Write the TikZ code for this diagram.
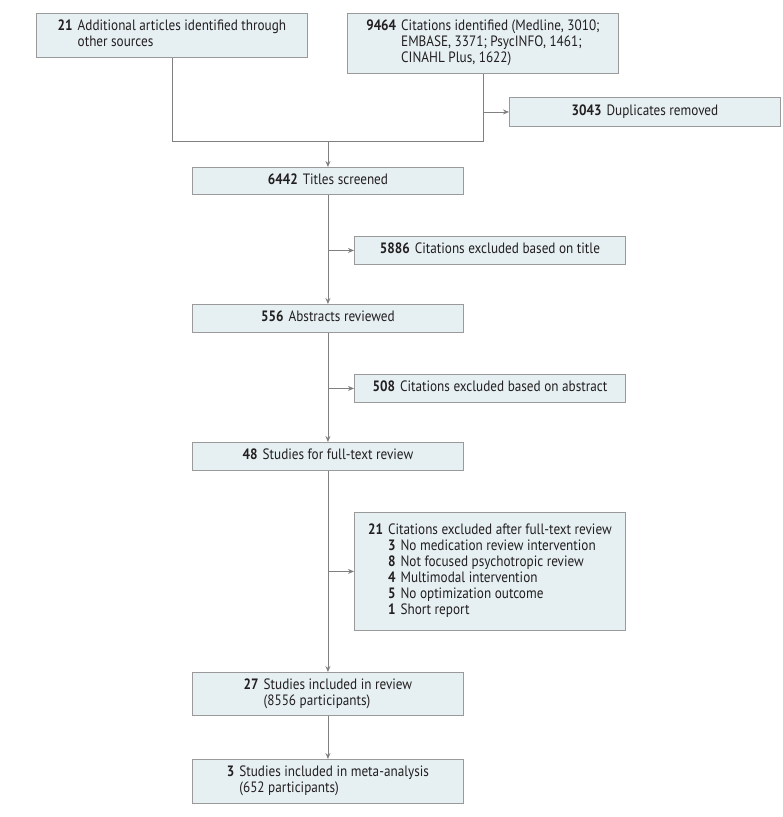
\documentclass[tikz,border=0pt]{standalone}
\usepackage{fontspec}
\setmainfont{PT Sans}[FakeStretch=0.88]
\usetikzlibrary{arrows.meta}
\definecolor{boxfill}{HTML}{E6F0F3}
\definecolor{boxline}{HTML}{9A9A9A}
\definecolor{conn}{HTML}{808080}
\definecolor{txt}{HTML}{231F20}
\tikzset{
  box/.style={draw=boxline, fill=boxfill, line width=0.9pt, anchor=north west,
    minimum width=271pt, inner sep=0pt, text=txt,
    font=\fontsize{15}{16}\selectfont},
  conline/.style={draw=conn, line width=0.9pt},
  arr/.style={conline, -{Stealth[length=6pt,width=5pt]}}
}
\newcommand{\entry}[2]{\begin{tabular}{@{}r@{\hspace{5pt}}l@{}}\textbf{#1} & #2\end{tabular}}
\begin{document}
\begin{tikzpicture}[x=1pt,y=-1pt]
\useasboundingbox (0,0) rectangle (783,817);
\node[box, minimum height=44pt] (A) at (36,13) {\begin{tabular}{@{}r@{\hspace{5pt}}l@{}}\textbf{21} & Additional articles identified through\\ & other sources\end{tabular}};
\node[box, minimum height=60pt] (B) at (347,13) {\begin{tabular}{@{}r@{\hspace{5pt}}l@{}}\textbf{9464} & Citations identified (Medline, 3010;\\ & EMBASE, 3371; PsycINFO, 1461;\\ & CINAHL Plus, 1622)\end{tabular}};
\node[box, minimum height=29pt] (D) at (509,97) {\entry{3043}{Duplicates removed}};
\node[box, minimum height=27pt] (C) at (192,167) {\entry{6442}{Titles screened}};
\node[box, minimum height=28pt] (F) at (354,236) {\entry{5886}{Citations excluded based on title}};
\node[box, minimum height=28pt] (E) at (192,304) {\entry{556}{Abstracts reviewed}};
\node[box, minimum height=28pt] (G) at (354,374) {\entry{508}{Citations excluded based on abstract}};
\node[box, minimum height=28pt] (H) at (192,442) {\entry{48}{Studies for full-text review}};
\node[box, minimum height=118pt] (I) at (354,512) {\begin{tabular}{@{}r@{\hspace{5pt}}l@{}}\textbf{21} & Citations excluded after full-text review\\
 & \begin{tabular}{@{}r@{\hspace{5pt}}l@{}}\textbf{3} & No medication review intervention\\
 \textbf{8} & Not focused psychotropic review\\
 \textbf{4} & Multimodal intervention\\
 \textbf{5} & No optimization outcome\\
 \textbf{1} & Short report\end{tabular}\end{tabular}};
\node[box, minimum height=43pt] (J) at (192,672) {\begin{tabular}{@{}r@{\hspace{5pt}}l@{}}\textbf{27} & Studies included in review\\ & (8556 participants)\end{tabular}};
\node[box, minimum height=44pt] (K) at (192,759) {\begin{tabular}{@{}r@{\hspace{5pt}}l@{}}\textbf{3} & Studies included in meta-analysis\\ & (652 participants)\end{tabular}};
\coordinate (ja) at (172,141);
\coordinate (jb) at (483,141);
\coordinate (jd) at (jb |- D.west);
\draw[conline] (A.south -| ja) -- (ja) -- (jb) -- (B.south -| jb);
\draw[arr] (C.north |- ja) -- (C.north);
\draw[arr] (jd) -- (D.west);
\draw[arr] (C.south) -- (E.north);
\draw[arr] (C.south |- F.west) -- (F.west);
\draw[arr] (E.south) -- (H.north);
\draw[arr] (E.south |- G.west) -- (G.west);
\draw[arr] (H.south) -- (J.north);
\draw[arr] (H.south |- I.west) -- (I.west);
\draw[arr] (J.south) -- (K.north);
\end{tikzpicture}
\end{document}
